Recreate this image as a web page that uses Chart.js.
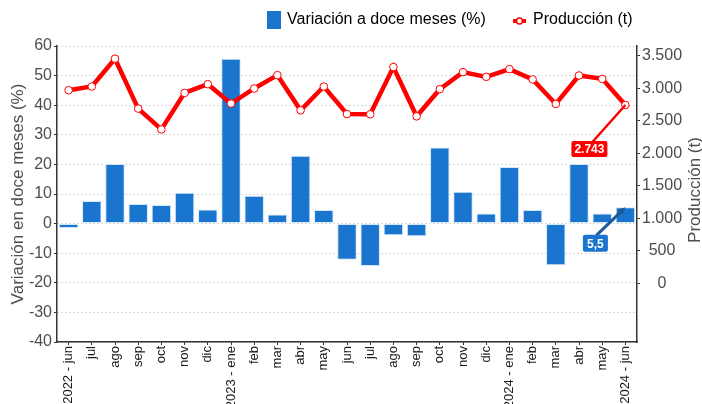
<!DOCTYPE html>
<html>
<head>
<meta charset="utf-8">
<script src="https://cdn.jsdelivr.net/npm/chart.js@4"></script>
<style>
  html, body { margin: 0; padding: 0; background: #fff; }
  #wrap { width: 702px; height: 404px; }
</style>
</head>
<body>
<div id="wrap"><canvas id="chart" width="702" height="404"></canvas></div>
<script>
// ── Datos ───────────────────────────────────────────────────────
const months = ['2022 - jun', 'jul', 'ago', 'sep', 'oct', 'nov', 'dic', '2023 - ene', 'feb', 'mar', 'abr', 'may',
                'jun', 'jul', 'ago', 'sep', 'oct', 'nov', 'dic', '2024 - ene', 'feb', 'mar', 'abr', 'may', '2024 - jun'];
const variation = [-1.5, 7.6, 20.1, 6.6, 6.3, 10.4, 4.8, 55.7, 9.4, 3.1, 22.9, 4.6,
                   -12.2, -14.3, -3.9, -4.3, 25.7, 10.8, 3.4, 19.1, 4.6, -14.1, 20.1, 3.4, 5.5];
const production = [2970, 3027, 3454, 2688, 2368, 2929, 3063, 2765, 2997, 3202, 2661, 3027,
                    2604, 2600, 3326, 2569, 2986, 3248, 3176, 3295, 3136, 2759, 3197, 3145, 2743];
const leftTicks  = [-40, -30, -20, -10, 0, 10, 20, 30, 40, 50, 60];
const rightTicks = [0, 500, 1000, 1500, 2000, 2500, 3000, 3500];

const barColor  = '#1a75cf';
const lineColor = '#ff0000';
const axisColor = '#4d4d4d';
const fontFam   = '"Liberation Sans", Arial, sans-serif';

const fmtThousands = v => String(v).replace(/\B(?=(\d{3})+(?!\d))/g, '.');
const fmtDecimal   = v => String(v).replace('.', ',');

// ── Leyenda, título derecho y etiquetas finales ─────────────────
const extras = {
    id: 'extras',
    afterDraw(chart) {
        const ctx = chart.ctx;
        const area = chart.chartArea;
        ctx.save();

        // leyenda
        ctx.font = '16px ' + fontFam;
        ctx.textBaseline = 'middle';
        ctx.fillStyle = barColor;
        ctx.fillRect(267, 11, 14, 18);
        ctx.fillStyle = '#000';
        ctx.textAlign = 'left';
        ctx.fillText('Variación a doce meses (%)', 287, 20);
        ctx.strokeStyle = lineColor;
        ctx.lineWidth = 4;
        ctx.beginPath(); ctx.moveTo(513, 21); ctx.lineTo(526, 21); ctx.stroke();
        ctx.fillStyle = '#fff';
        ctx.lineWidth = 1.5;
        ctx.beginPath(); ctx.arc(519.5, 21, 3, 0, Math.PI * 2); ctx.fill(); ctx.stroke();
        ctx.fillStyle = '#000';
        ctx.fillText('Producción (t)', 533, 20);

        // título eje derecho (se lee de abajo hacia arriba)
        ctx.save();
        ctx.translate(695, (area.top + area.bottom) / 2 - 4);
        ctx.rotate(-Math.PI / 2);
        ctx.font = '17px ' + fontFam;
        ctx.fillStyle = axisColor;
        ctx.textAlign = 'center';
        ctx.fillText('Producción (t)', 0, 0);
        ctx.restore();

        const last = months.length - 1;
        const pt  = chart.getDatasetMeta(1).data[last];
        const bar = chart.getDatasetMeta(0).data[last];

        // etiqueta producción
        const px = pt.x - 36, py = pt.y + 44;
        ctx.strokeStyle = lineColor;
        ctx.lineWidth = 2.5;
        ctx.beginPath(); ctx.moveTo(px + 3, py - 7); ctx.lineTo(pt.x, pt.y); ctx.stroke();
        ctx.fillStyle = lineColor;
        ctx.beginPath(); ctx.roundRect(px - 18, py - 8, 36, 16, 2); ctx.fill();
        ctx.fillStyle = '#fff';
        ctx.font = 'bold 12px ' + fontFam;
        ctx.textAlign = 'center';
        ctx.fillText(fmtThousands(production[last]), px, py + 1);

        // etiqueta variación con flecha
        const bx = bar.x - 30, by = bar.y + 36;
        const ax = bar.x, ay = bar.y;
        ctx.strokeStyle = '#1f5a98';
        ctx.fillStyle = '#1f5a98';
        ctx.lineWidth = 3;
        ctx.beginPath(); ctx.moveTo(bx + 1, by - 8); ctx.lineTo(ax - 3, ay + 3); ctx.stroke();
        const ang = Math.atan2(ay - (by - 8), ax - (bx + 1));
        ctx.beginPath();
        ctx.moveTo(ax, ay);
        ctx.lineTo(ax - 8 * Math.cos(ang - 0.45), ay - 8 * Math.sin(ang - 0.45));
        ctx.lineTo(ax - 8 * Math.cos(ang + 0.45), ay - 8 * Math.sin(ang + 0.45));
        ctx.closePath(); ctx.fill();
        ctx.fillStyle = barColor;
        ctx.beginPath(); ctx.roundRect(bx - 12.5, by - 8.5, 25, 17, 2); ctx.fill();
        ctx.fillStyle = '#fff';
        ctx.fillText(fmtDecimal(variation[last]), bx, by + 1);

        ctx.restore();
    }
};

new Chart(document.getElementById('chart'), {
    data: {
        labels: months,
        datasets: [
            {
                type: 'bar',
                label: 'Variación a doce meses (%)',
                data: variation,
                backgroundColor: barColor,
                borderColor: 'rgba(200,225,250,.8)',
                borderWidth: 1,
                borderSkipped: false,
                barPercentage: 0.84,
                categoryPercentage: 1,
                yAxisID: 'y',
                order: 2,
            },
            {
                type: 'line',
                label: 'Producción (t)',
                data: production,
                borderColor: lineColor,
                borderWidth: 4.5,
                pointRadius: 3.8,
                pointBorderWidth: 1,
                pointBackgroundColor: '#fff',
                pointBorderColor: lineColor,
                tension: 0,
                yAxisID: 'y2',
                order: 1,
            }
        ]
    },
    options: {
        responsive: false,
        animation: false,
        layout: { padding: { top: 46, right: 0, left: 0, bottom: 0 } },
        plugins: { legend: { display: false }, tooltip: { enabled: false } },
        scales: {
            x: {
                offset: true,
                grid: { display: true, drawOnChartArea: false, offset: false, color: '#333', tickLength: 3 },
                border: { color: '#333', width: 1.5 },
                ticks: { font: { size: 13, family: fontFam }, color: '#1a1a1a', maxRotation: 90, minRotation: 90,
                         autoSkip: false, padding: 1 },
                afterFit: s => { s.height = 62; }
            },
            y: {
                position: 'left',
                min: -40, max: 60,
                afterBuildTicks: s => { s.ticks = leftTicks.map(v => ({ value: v })); },
                grid: { color: '#b3b3b3', lineWidth: 1, tickLength: 3, tickColor: '#333', tickBorderDash: [] },
                border: { color: '#333', width: 1.5, dash: [1, 3] },
                ticks: { font: { size: 16, family: fontFam }, color: axisColor, padding: 2 },
                title: { display: true, text: 'Variación en doce meses (%)', font: { size: 17, family: fontFam },
                         color: axisColor, padding: { top: 8, bottom: 0 } },
                afterFit: s => { s.width = 57; }
            },
            y2: {
                position: 'right',
                min: -900, max: 3650,
                afterBuildTicks: s => { s.ticks = rightTicks.map(v => ({ value: v })); },
                grid: { drawOnChartArea: false, color: '#333', tickLength: 3 },
                border: { color: '#333', width: 1.5 },
                ticks: { font: { size: 16, family: fontFam }, color: axisColor, padding: 2, crossAlign: 'center',
                         callback: v => fmtThousands(v) },
                afterFit: s => { s.width = 65; }
            }
        }
    },
    plugins: [extras]
});
</script>
</body>
</html>
